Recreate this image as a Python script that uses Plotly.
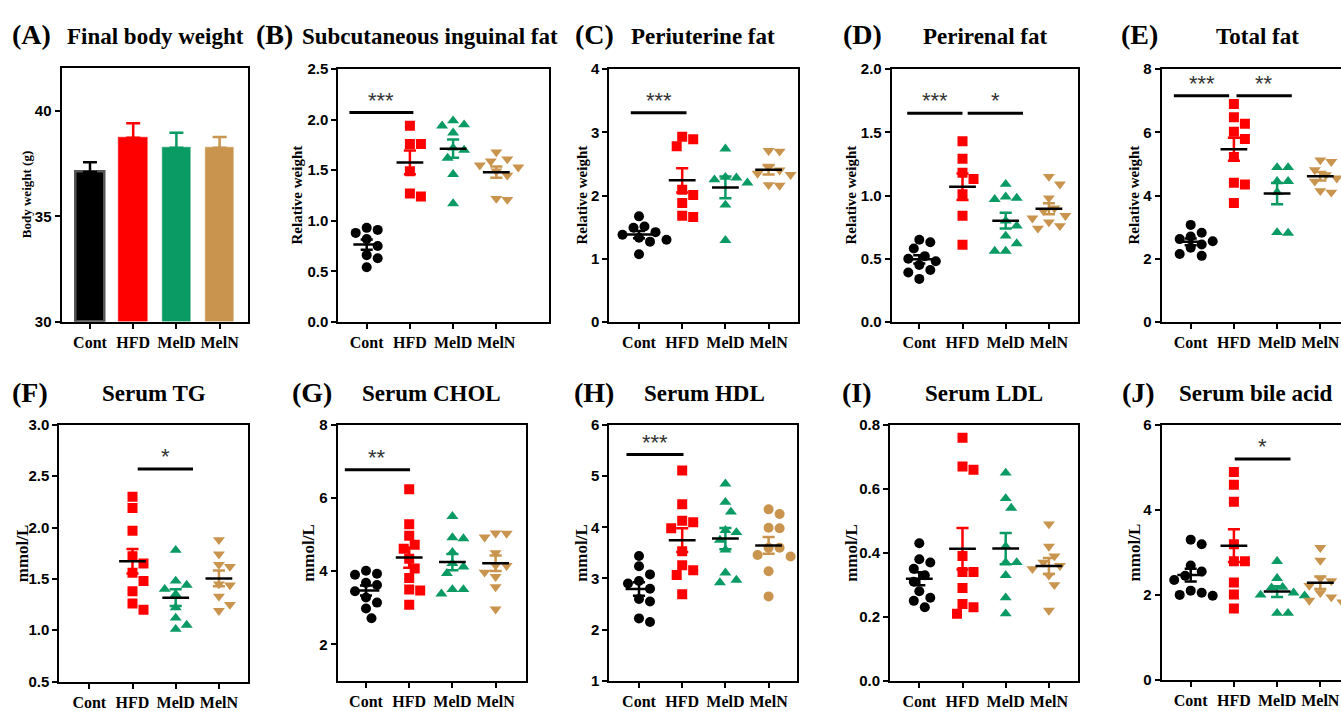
import numpy as np
import plotly.graph_objects as go

groups = ["Cont", "HFD", "MelD", "MelN"]
colors = ["#000000", "#FF0000", "#0A9A63", "#C8944E"]

# ---- Panel A: final body weight (bars, mean + SEM) ----
bw_mean = [37.1, 38.72, 38.24, 38.25]
bw_sem = [0.46, 0.68, 0.71, 0.51]

# ---- Panel B: subcutaneous inguinal fat ----
sub_cont = [0.93, 0.91, 0.88, 0.82, 0.75, 0.66, 0.63, 0.54]
sub_hfd = [1.94, 1.76, 1.76, 1.49, 1.24, 1.27]
sub_meld = [1.99, 1.95, 1.94, 1.87, 1.72, 1.70, 1.62, 1.46, 1.17]
sub_meln = [1.68, 1.61, 1.59, 1.55, 1.53, 1.49, 1.45, 1.22, 1.21]

# ---- Panel C: periuterine fat ----
peru_cont = [1.67, 1.51, 1.49, 1.42, 1.38, 1.33, 1.30, 1.27, 1.07]
peru_hfd = [2.89, 2.93, 2.78, 2.01, 2.09, 1.88, 1.66, 1.68]
peru_meld = [2.74, 2.29, 2.28, 2.25, 2.20, 1.85, 1.29]
peru_meln = [2.71, 2.70, 2.44, 2.40, 2.35, 2.33, 2.17, 2.16]

# ---- Panel D: perirenal fat ----
peri_cont = [0.65, 0.63, 0.58, 0.52, 0.50, 0.48, 0.45, 0.41, 0.39, 0.34]
peri_hfd = [1.43, 1.29, 1.18, 1.13, 1.01, 0.84, 0.61]
peri_meld = [1.09, 0.99, 0.98, 0.97, 0.80, 0.76, 0.68, 0.62, 0.56, 0.56]
peri_meln = [1.15, 1.09, 0.98, 0.90, 0.88, 0.84, 0.82, 0.79, 0.76, 0.74]

# ---- Panel E: total fat ----
tot_cont = [3.07, 2.82, 2.70, 2.62, 2.55, 2.45, 2.35, 2.15, 2.09]
tot_hfd = [6.90, 6.48, 6.27, 6.02, 5.79, 5.22, 4.40, 4.35, 3.76]
tot_meld = [4.89, 4.89, 4.45, 4.45, 4.10, 2.81, 2.83]
tot_meln = [5.12, 5.07, 4.81, 4.65, 4.55, 4.45, 4.15, 4.10]

# ---- Panel F: serum TG ----
tg_cont = []
tg_hfd = [2.30, 2.19, 1.97, 1.72, 1.65, 1.56, 1.48, 1.38, 1.26, 1.20]
tg_meld = [1.78, 1.48, 1.44, 1.40, 1.35, 1.22, 1.12, 1.05, 1.01]
tg_meln = [1.88, 1.74, 1.64, 1.62, 1.45, 1.44, 1.33, 1.25, 1.19]

# ---- Panel G: serum CHOL ----
chol_cont = [4.01, 3.93, 3.90, 3.68, 3.62, 3.45, 3.28, 3.14, 2.98, 2.71]
chol_hfd = [6.24, 5.28, 4.97, 4.72, 4.61, 4.34, 4.07, 3.81, 3.50, 3.47, 3.08]
chol_meld = [5.50, 4.92, 4.89, 4.52, 4.21, 4.12, 3.94, 3.50, 3.38, 3.50]
chol_meln = [5.04, 5.03, 4.93, 4.50, 4.16, 4.15, 3.97, 3.85, 3.57, 2.96]

# ---- Panel H: serum HDL ----
hdl_cont = [3.44, 3.24, 3.08, 2.95, 2.90, 2.80, 2.60, 2.55, 2.22, 2.15]
hdl_hfd = [5.11, 4.45, 4.13, 4.10, 3.98, 3.53, 3.26, 3.16, 3.07, 2.69]
hdl_meld = [4.85, 4.49, 4.30, 3.94, 3.90, 3.75, 3.56, 3.11, 2.97, 2.92]
hdl_meln = [4.26, 4.35, 3.99, 3.98, 3.60, 3.46, 3.60, 3.43, 3.14, 2.65]

# ---- Panel I: serum LDL ----
ldl_cont = [0.43, 0.38, 0.37, 0.35, 0.33, 0.31, 0.28, 0.26, 0.25, 0.23]
ldl_hfd = [0.76, 0.66, 0.67, 0.39, 0.34, 0.34, 0.29, 0.24, 0.23, 0.21]
ldl_meld = [0.65, 0.57, 0.54, 0.42, 0.37, 0.37, 0.33, 0.26, 0.21]
ldl_meln = [0.49, 0.42, 0.39, 0.37, 0.36, 0.35, 0.33, 0.30, 0.22]

# ---- Panel J: serum bile acid ----
ba_cont = [3.30, 3.19, 2.69, 2.55, 2.45, 2.35, 2.10, 2.05, 2.00, 1.98]
ba_hfd = [4.89, 4.59, 4.19, 3.19, 2.79, 2.79, 2.29, 2.01, 1.68]
ba_meld = [2.79, 2.39, 2.18, 2.17, 2.05, 2.00, 1.98, 1.57, 1.57]
ba_meln = [3.11, 2.81, 2.39, 2.33, 2.22, 2.05, 1.95, 1.87, 1.83]

panel_titles = {
    "A": "Final body weight", "B": "Subcutaneous inguinal fat", "C": "Periuterine fat",
    "D": "Perirenal fat", "E": "Total fat", "F": "Serum TG", "G": "Serum CHOL",
    "H": "Serum HDL", "I": "Serum LDL", "J": "Serum bile acid",
}
y_titles = {"A": "Body weight (g)", "B": "Relative weight", "C": "Relative weight",
            "D": "Relative weight", "E": "Relative weight", "F": "mmol/L", "G": "mmol/L",
            "H": "mmol/L", "I": "mmol/L", "J": "mmol/L"}

scatter_data = {
    "B": [sub_cont, sub_hfd, sub_meld, sub_meln],
    "C": [peru_cont, peru_hfd, peru_meld, peru_meln],
    "D": [peri_cont, peri_hfd, peri_meld, peri_meln],
    "E": [tot_cont, tot_hfd, tot_meld, tot_meln],
    "F": [tg_cont, tg_hfd, tg_meld, tg_meln],
    "G": [chol_cont, chol_hfd, chol_meld, chol_meln],
    "H": [hdl_cont, hdl_hfd, hdl_meld, hdl_meln],
    "I": [ldl_cont, ldl_hfd, ldl_meld, ldl_meln],
    "J": [ba_cont, ba_hfd, ba_meld, ba_meln],
}

# y ranges and ticks
y_ranges = {"A": [30, 42], "B": [0, 2.5], "C": [0, 4], "D": [0, 2], "E": [0, 8],
            "F": [0.5, 3.0], "G": [1, 8], "H": [1, 6], "I": [0, 0.8], "J": [0, 6]}
y_ticks = {"A": [30, 35, 40], "B": [0, 0.5, 1.0, 1.5, 2.0, 2.5], "C": [0, 1, 2, 3, 4],
           "D": [0, 0.5, 1.0, 1.5, 2.0], "E": [0, 2, 4, 6, 8],
           "F": [0.5, 1.0, 1.5, 2.0, 2.5, 3.0], "G": [2, 4, 6, 8], "H": [1, 2, 3, 4, 5, 6],
           "I": [0, 0.2, 0.4, 0.6, 0.8], "J": [0, 2, 4, 6]}
y_fmt = {"A": "d", "B": ".1f", "C": "d", "D": ".1f", "E": "d", "F": ".1f", "G": "d",
         "H": "d", "I": ".1f", "J": "d"}

# significance brackets: (x_start, x_end, y, label)
sig_B = [(-0.40, 1.08, 2.07, "***")]
sig_C = [(-0.19, 1.10, 3.31, "***")]
sig_D = [(-0.28, 1.00, 1.65, "***"), (1.12, 2.40, 1.65, "*")]
sig_E = [(-0.39, 0.89, 7.16, "***"), (1.06, 2.34, 7.16, "**")]
sig_F = [(1.12, 2.40, 2.57, "*")]
sig_G = [(-0.49, 1.02, 6.77, "**")]
sig_H = [(-0.29, 1.03, 5.42, "***")]
sig_J = [(1.02, 2.31, 5.20, "*")]
sigs = {"B": sig_B, "C": sig_C, "D": sig_D, "E": sig_E, "F": sig_F, "G": sig_G,
        "H": sig_H, "J": sig_J}

# ---- layout geometry (pixels) ----
W, H = 1341, 711
SP = 43.2  # px per category
# x0, x1, ytop, ybot, pixel of first category
boxes = {
    "A": (61.5, 248.0, 61.0, 321.0, 90.0),
    "B": (338.3, 549.3, 61.7, 321.0, 366.7),
    "C": (609.3, 798.3, 61.7, 321.0, 639.0),
    "D": (891.7, 1078.3, 61.7, 321.0, 919.3),
    "E": (1161.7, 1341.0, 61.7, 321.0, 1190.7),
    "F": (59.3, 248.3, 426.7, 690.0, 89.3),
    "G": (337.7, 526.0, 426.7, 689.3, 366.0),
    "H": (609.3, 797.3, 426.7, 689.3, 639.0),
    "I": (890.0, 1078.3, 426.7, 689.3, 919.3),
    "J": (1161.7, 1341.0, 426.7, 688.3, 1190.7),
}
label_pos = {"A": (31, 26), "B": (274, 26), "C": (594, 26), "D": (862, 26), "E": (1139, 26),
             "F": (30, 393), "G": (312, 393), "H": (594, 393), "I": (857, 393), "J": (1138, 393)}
title_pos = {"A": (155, 28), "B": (430, 28), "C": (703, 28), "D": (985, 28), "E": (1257, 28),
             "F": (154, 394), "G": (431, 394), "H": (704, 394), "I": (984, 394), "J": (1256, 394)}
ytitle_x = {"A": 26, "B": 297, "C": 582, "D": 851, "E": 1134,
            "F": 22, "G": 309, "H": 582, "I": 852, "J": 1134}

markers = ["circle", "square", "triangle-up", "triangle-down"]

SERIF = "Liberation Serif"
SANS = "Liberation Sans"


def swarm(vals, ppu, d=10.5, step=5.5):
    vals = np.asarray(vals, dtype=float)
    offs = np.zeros(len(vals))
    placed = []
    order = np.argsort(-vals)
    cands = [0.0]
    for j in range(1, 12):
        cands += [j * step, -j * step]
    for i in order:
        y = vals[i] * ppu
        chosen = cands[-1]
        for c in cands:
            if all((c - px) ** 2 + (y - pyy) ** 2 >= d * d for px, pyy in placed):
                chosen = c
                break
        placed.append((chosen, y))
        offs[i] = chosen
    return offs


fig = go.Figure()
annotations = []
layout_axes = {}

for n, key in enumerate(boxes, start=1):
    x0, x1, yt, yb, c0 = boxes[key]
    xr = [(x0 - c0) / SP, (x1 - c0) / SP]
    yr = y_ranges[key]
    ppu = (yb - yt) / (yr[1] - yr[0])
    xa = "x" if n == 1 else f"x{n}"
    ya = "y" if n == 1 else f"y{n}"
    edge = key in ("E", "J")
    layout_axes["xaxis" if n == 1 else f"xaxis{n}"] = dict(
        domain=[x0 / W, x1 / W], anchor=ya, range=xr, tickvals=[0, 1, 2, 3],
        ticktext=groups, showline=True, linecolor="black", linewidth=2, mirror=True,
        ticks="outside", ticklen=5, tickwidth=2, tickcolor="black", showgrid=False,
        zeroline=False, tickfont=dict(family=SERIF, size=16, color="black", weight="bold"),
        fixedrange=True)
    layout_axes["yaxis" if n == 1 else f"yaxis{n}"] = dict(
        domain=[1 - yb / H, 1 - yt / H], anchor=xa, range=yr, tickvals=y_ticks[key],
        tickformat=y_fmt[key], showline=True, linecolor="black", linewidth=2,
        mirror=(not edge), ticks="outside", ticklen=5, tickwidth=2, tickcolor="black",
        showgrid=False, zeroline=False,
        tickfont=dict(family=SANS, size=15, color="black", weight="bold"), fixedrange=True)

    if key == "A":
        for g in range(4):
            fig.add_trace(go.Bar(
                x=[g], y=[bw_mean[g] - yr[0]], base=yr[0], width=0.66,
                marker=dict(color=colors[g],
                            line=dict(color="#555555" if g == 0 else colors[g], width=2.5 if g == 0 else 0.5)),
                error_y=dict(type="data", symmetric=False, array=[bw_sem[g]], arrayminus=[0],
                             color=colors[g], thickness=2.5, width=7),
                xaxis=xa, yaxis=ya, showlegend=False))
    else:
        for g, vals in enumerate(scatter_data[key]):
            if len(vals) == 0:
                continue
            v = np.asarray(vals, dtype=float)
            offs = swarm(v, ppu) / SP
            sym = "circle" if (key == "H" and g == 3) else markers[g]
            fig.add_trace(go.Scatter(
                x=g + offs, y=v, mode="markers", xaxis=xa, yaxis=ya, showlegend=False,
                marker=dict(symbol=sym, size=10.5 if "triangle" in sym else 10, color=colors[g],
                            line=dict(width=0))))
        for g, vals in enumerate(scatter_data[key]):
            if len(vals) == 0:
                continue
            v = np.asarray(vals, dtype=float)
            m = v.mean()
            s = v.std(ddof=1) / np.sqrt(len(v))
            cw = 0.14
            fig.add_trace(go.Scatter(
                x=[g, g, None, g - cw, g + cw, None, g - cw, g + cw],
                y=[m - s, m + s, None, m + s, m + s, None, m - s, m - s],
                mode="lines", line=dict(color=colors[g], width=2.5), xaxis=xa, yaxis=ya,
                showlegend=False))
            fig.add_trace(go.Scatter(
                x=[g - 0.31, g + 0.31], y=[m, m], mode="lines",
                line=dict(color="black", width=2.5), xaxis=xa, yaxis=ya, showlegend=False))
        for (sx0, sx1, sy, lab) in sigs.get(key, []):
            fig.add_trace(go.Scatter(
                x=[sx0, sx1], y=[sy, sy], mode="lines", line=dict(color="black", width=3),
                xaxis=xa, yaxis=ya, showlegend=False))
            annotations.append(dict(
                x=(sx0 + sx1) / 2, y=sy, xref=xa, yref=ya, text=lab, showarrow=False,
                yanchor="bottom", yshift=-2,
                font=dict(family=SANS, size=22, color="#333333")))

    lx, ly = label_pos[key]
    annotations.append(dict(x=lx / W, y=1 - ly / H, xref="paper", yref="paper",
                            text=f"({key})", showarrow=False, xanchor="center", yanchor="middle",
                            font=dict(family=SERIF, size=28, color="black", weight="bold")))
    tx, ty = title_pos[key]
    annotations.append(dict(x=tx / W, y=1 - ty / H, xref="paper", yref="paper",
                            text=panel_titles[key], showarrow=False, xanchor="center",
                            yanchor="middle",
                            font=dict(family=SERIF, size=23, color="black", weight="bold")))
    annotations.append(dict(x=ytitle_x[key] / W, y=1 - ((yt + yb) / 2) / H, xref="paper",
                            yref="paper", text=y_titles[key], showarrow=False, textangle=-90,
                            xanchor="center", yanchor="middle",
                            font=dict(family=SERIF, size=13 if key == "A" else (15 if key in "BCDE" else 17),
                                      color="black", weight="bold")))

fig.update_layout(
    width=W, height=H, margin=dict(l=0, r=0, t=0, b=0),
    paper_bgcolor="white", plot_bgcolor="white", showlegend=False,
    annotations=annotations, bargap=0, **layout_axes)

fig.write_html(
    "out.html", config={"displayModeBar": False},
    post_script="document.body.style.margin='0';document.body.style.overflow='hidden';")
